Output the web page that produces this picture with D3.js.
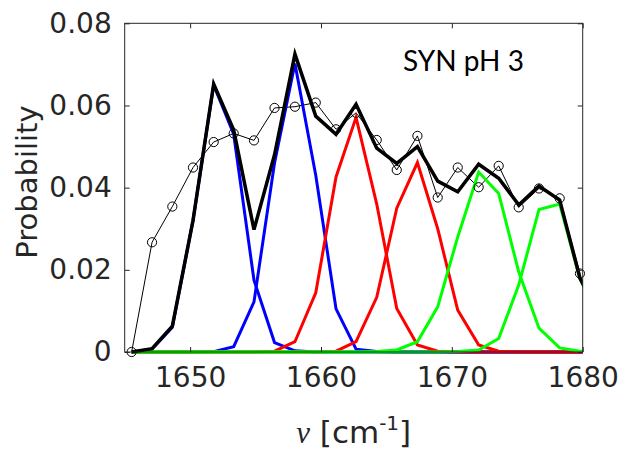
<!DOCTYPE html>
<html>
<head>
<meta charset="utf-8">
<script src="https://cdn.jsdelivr.net/npm/d3@7"></script>
<style>
  html, body { margin: 0; padding: 0; background: #ffffff; }
  svg { display: block; }
</style>
</head>
<body>
<svg id="chart" width="622" height="454"></svg>
<script>
// Measured spectrum (circles)
const freq = [1645.53, 1647.09, 1648.64, 1650.22, 1651.80, 1653.33, 1654.88, 1656.45, 1658.01, 1659.60, 1661.15, 1662.68, 1664.26, 1665.79, 1667.37, 1668.92, 1670.45, 1672.05, 1673.58, 1675.11, 1676.66, 1678.24, 1679.79];
const measured = [0, 0.0267, 0.0354, 0.0449, 0.0511, 0.0532, 0.0515, 0.0594, 0.0597, 0.0607, 0.0542, 0.0582, 0.0516, 0.0443, 0.0526, 0.0376, 0.0449, 0.0401, 0.0453, 0.0352, 0.0398, 0.0374, 0.0191];

// Fit grid (extends just past the right axis limit, clipped)
const freqFit = [1645.53, 1647.09, 1648.64, 1650.22, 1651.80, 1653.33, 1654.88, 1656.45, 1658.01, 1659.60, 1661.15, 1662.68, 1664.26, 1665.79, 1667.37, 1668.92, 1670.45, 1672.05, 1673.58, 1675.11, 1676.66, 1678.24, 1679.79, 1681.35];
const blue1  = [0, 0.0007, 0.006, 0.032, 0.065, 0.053, 0.0175, 0.0023, 0.0003, 0, 0, 0, 0, 0, 0, 0, 0, 0, 0, 0, 0, 0, 0, 0];
const blue2  = [0, 0, 0, 0, 0.0001, 0.0013, 0.0122, 0.046, 0.0702, 0.043, 0.0105, 0.0007, 0.0001, 0, 0, 0, 0, 0, 0, 0, 0, 0, 0, 0];
const red1   = [0, 0, 0, 0, 0, 0, 0, 0.0002, 0.0025, 0.0144, 0.0426, 0.0571, 0.036, 0.0106, 0.0017, 0.0002, 0, 0, 0, 0, 0, 0, 0, 0];
const red2   = [0, 0, 0, 0, 0, 0, 0, 0, 0, 0, 0.0002, 0.0025, 0.0133, 0.035, 0.0461, 0.030, 0.0102, 0.0017, 0.0002, 0, 0, 0, 0, 0];
const green1 = [0, 0, 0, 0, 0, 0, 0, 0, 0, 0, 0, 0, 0.0001, 0.0005, 0.0025, 0.011, 0.028, 0.0438, 0.0386, 0.0195, 0.0058, 0.001, 0.0002, 0];
const green2 = [0, 0, 0, 0, 0, 0, 0, 0, 0, 0, 0, 0, 0, 0, 0, 0, 0.0001, 0.0005, 0.0033, 0.0163, 0.0347, 0.036, 0.0178, 0.008];
const total  = [0, 0.0008, 0.0063, 0.032, 0.0652, 0.054, 0.0298, 0.048, 0.0725, 0.0574, 0.053, 0.0603, 0.0496, 0.0459, 0.050, 0.0416, 0.039, 0.0457, 0.0423, 0.0358, 0.0404, 0.037, 0.018, 0.008];

const xTicks = [1650, 1660, 1670, 1680];
const yTicks = [0, 0.02, 0.04, 0.06, 0.08];
const yTickLabels = ["0", "0.02", "0.04", "0.06", "0.08"];
const annotation = "SYN pH 3";

const svg = d3.select("#chart");
const L = 124.7, R = 582.7, T = 23.3, B = 352;
const x = d3.scaleLinear().domain([1645, 1680]).range([L, R]);
const y = d3.scaleLinear().domain([0, 0.08]).range([B, T]);
const axisColor = "#262626";
const tickFont = "'DejaVu Sans', 'Liberation Sans', Arial, sans-serif";

svg.append("defs").append("clipPath").attr("id", "clip")
  .append("rect").attr("x", L).attr("y", T - 10).attr("width", R - L).attr("height", B - T + 20);

const plot = svg.append("g").attr("clip-path", "url(#clip)");

// Measured data thin line
const lineM = d3.line().x((d, i) => x(freq[i])).y(d => y(d));
plot.append("path").datum(measured).attr("d", lineM)
  .attr("fill", "none").attr("stroke", "#000").attr("stroke-width", 1);

const lineF = d3.line().x((d, i) => x(freqFit[i])).y(d => y(d));
const comps = [
  [blue1, "#0000ff"], [blue2, "#0000ff"],
  [red1, "#ff0000"], [red2, "#ff0000"],
  [green1, "#00ff00"], [green2, "#00ff00"]
];
comps.forEach(([arr, col]) => {
  plot.append("path").datum(arr).attr("d", lineF)
    .attr("fill", "none").attr("stroke", col).attr("stroke-width", 3)
    .attr("stroke-linejoin", "miter");
});
plot.append("path").datum(total).attr("d", lineF)
  .attr("fill", "none").attr("stroke", "#000").attr("stroke-width", 3.5)
  .attr("stroke-linejoin", "miter");

// circles
svg.append("g").selectAll("circle").data(measured).join("circle")
  .attr("cx", (d, i) => x(freq[i])).attr("cy", d => y(d)).attr("r", 4.6)
  .attr("fill", "none").attr("stroke", "#000").attr("stroke-width", 1);

// Axes box with inward ticks
const axG = svg.append("g");
const xb = d3.axisBottom(x).tickValues(xTicks).tickSizeInner(-5).tickSizeOuter(0).tickFormat(d3.format("d")).tickPadding(15);
const xt = d3.axisTop(x).tickValues(xTicks).tickSizeInner(-5).tickSizeOuter(0).tickFormat("");
const yl = d3.axisLeft(y).tickValues(yTicks).tickSizeInner(-5).tickSizeOuter(0).tickFormat((d, i) => yTickLabels[i]).tickPadding(13);
const yr = d3.axisRight(y).tickValues(yTicks).tickSizeInner(-5).tickSizeOuter(0).tickFormat("");

axG.append("g").attr("transform", `translate(0,${B})`).call(xb);
axG.append("g").attr("transform", `translate(0,${T})`).call(xt);
axG.append("g").attr("transform", `translate(${L},0)`).call(yl);
axG.append("g").attr("transform", `translate(${R},0)`).call(yr);
axG.selectAll(".domain").remove();
axG.append("rect").attr("x", L).attr("y", T).attr("width", R - L).attr("height", B - T)
  .attr("fill", "none").attr("stroke", axisColor).attr("stroke-width", 1);
axG.selectAll(".tick line").attr("stroke", axisColor);
axG.selectAll(".tick text").attr("fill", axisColor)
  .style("font-family", tickFont).style("font-size", "28px");

// Labels
svg.append("text")
  .attr("transform", `translate(37,182) rotate(-90)`)
  .attr("text-anchor", "middle")
  .style("font-family", tickFont).style("font-size", "29px").attr("fill", axisColor)
  .text("Probability");

const xl = svg.append("text")
  .attr("x", (L + R) / 2).attr("y", 443).attr("text-anchor", "middle")
  .style("font-family", tickFont).style("font-size", "31px").attr("fill", axisColor);
xl.append("tspan").style("font-family", "'Liberation Serif', 'Times New Roman', serif").style("font-style", "italic").text("ν");
xl.append("tspan").text(" [cm");
xl.append("tspan").attr("dy", -13).style("font-size", "20px").text("-1");
xl.append("tspan").attr("dy", 13).text("]");

svg.append("text").attr("x", 403).attr("y", 71)
  .style("font-family", "Lato, 'Open Sans', sans-serif").style("font-size", "28px").attr("fill", "#000")
  .text(annotation);
</script>
</body>
</html>
